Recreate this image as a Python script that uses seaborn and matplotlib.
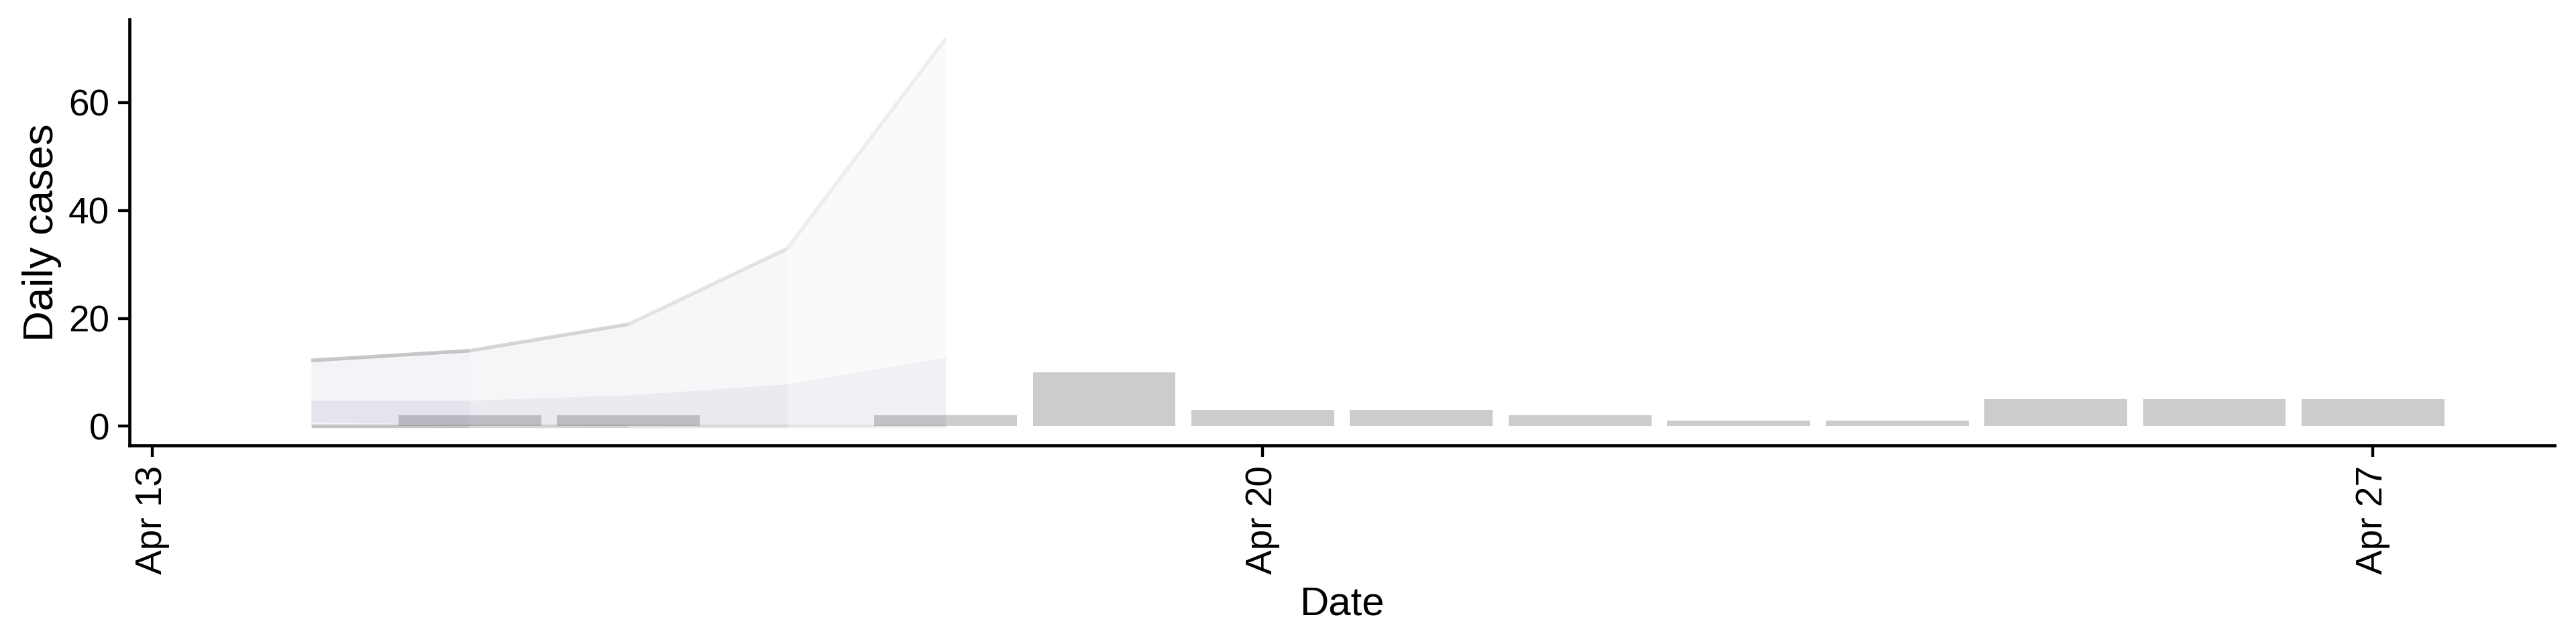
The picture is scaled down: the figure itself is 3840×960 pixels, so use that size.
import numpy as np
import pandas as pd
import matplotlib
matplotlib.use("Agg")
import matplotlib.pyplot as plt
import matplotlib.dates as mdates
import seaborn as sns

# ---- data ----
case_dates = pd.date_range("2020-04-14", "2020-04-27", freq="D")
daily_cases = [0, 2, 2, 0, 2, 10, 3, 3, 2, 1, 1, 5, 5, 5]

est_dates = pd.date_range("2020-04-14", "2020-04-18", freq="D")
upper_90 = [12.2, 14.0, 18.9, 32.9, 71.8]
upper_50 = [4.8, 4.8, 5.8, 7.8, 12.8]
lower_50 = [0.8, 0.3, 0.1, 0.0, 0.0]
lower_90 = [0.0, 0.0, 0.0, 0.0, 0.0]

x_tick_dates = pd.to_datetime(["2020-04-13", "2020-04-20", "2020-04-27"])
y_ticks = [0, 20, 40, 60]

# ---- style ----
sns.set_theme(style="ticks")
plt.rcParams["font.family"] = ["Liberation Sans", "DejaVu Sans"]

fig = plt.figure(figsize=(16, 4), dpi=240)
ax = fig.add_axes([0.0503, 0.308, 0.9414, 0.662])

xnum = mdates.date2num(case_dates.to_pydatetime())
sns.barplot(x=xnum, y=daily_cases, native_scale=True, color="#cccccc",
            saturation=1, width=0.9, linewidth=0, ax=ax, zorder=1)

enum = mdates.date2num(est_dates.to_pydatetime())
rib_col = "#4c4c88"
outer_alpha = [0.057, 0.046, 0.040, 0.029]
inner_alpha = [0.091, 0.071, 0.072, 0.046]
line_alpha = [0.46, 0.32, 0.21, 0.13]
for i in range(len(enum) - 1):
    sl = slice(i, i + 2)
    ax.fill_between(enum[sl], lower_90[sl], upper_90[sl], color=rib_col,
                    alpha=outer_alpha[i], linewidth=0, zorder=2)
    ax.fill_between(enum[sl], lower_50[sl], upper_50[sl], color=rib_col,
                    alpha=inner_alpha[i], linewidth=0, zorder=3)
    ax.plot(enum[sl], upper_90[sl], color="#888888", alpha=line_alpha[i],
            lw=1.6, solid_capstyle="butt", zorder=4)
    ax.plot(enum[sl], lower_90[sl], color="#888888", alpha=line_alpha[i],
            lw=1.6, solid_capstyle="butt", zorder=4)

# limits with 5% expansion
half = 0.45
xmin, xmax = xnum[0] - half, xnum[-1] + half
xr = xmax - xmin
ax.set_xlim(xmin - 0.05 * xr, xmax + 0.05 * xr)
ymax = max(upper_90)
ax.set_ylim(-0.05 * ymax, ymax * 1.05)

ax.set_xticks(mdates.date2num(x_tick_dates.to_pydatetime()))
ax.xaxis.set_major_formatter(mdates.DateFormatter("%b %d"))
ax.set_yticks(y_ticks)

for lab in ax.get_xticklabels():
    lab.set_rotation(90)

ax.tick_params(axis="both", labelsize=16.5, length=5, width=1.3,
               color="black", labelcolor="black", pad=4)
for s in ["top", "right"]:
    ax.spines[s].set_visible(False)
for s in ["left", "bottom"]:
    ax.spines[s].set_color("black")
    ax.spines[s].set_linewidth(1.4)

ax.set_xlabel("Date", fontsize=18, color="black", labelpad=5)
ax.set_ylabel("Daily cases", fontsize=19, color="black", labelpad=3)

fig.savefig("out.png", dpi=240, facecolor="white")
